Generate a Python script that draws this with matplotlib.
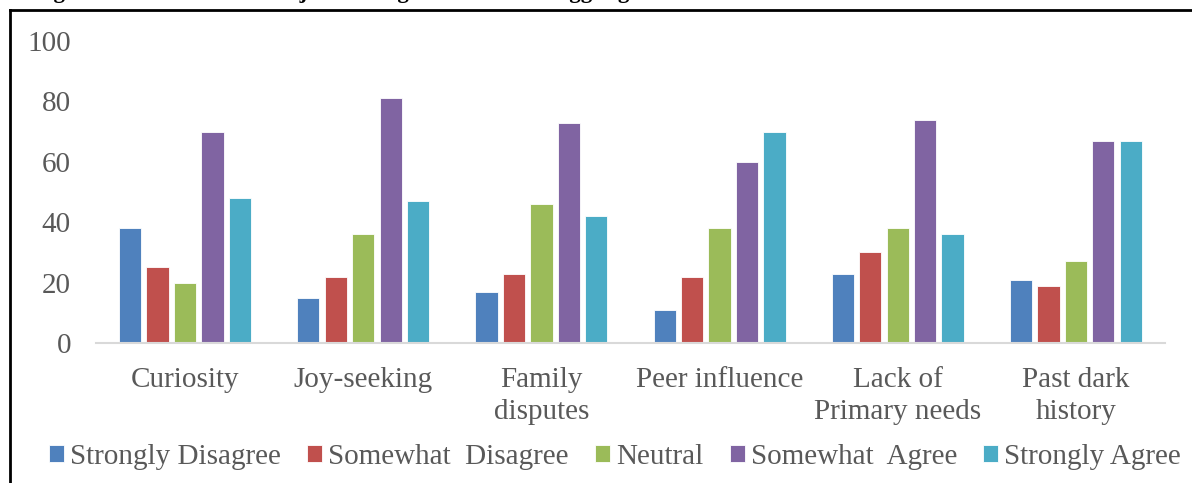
import numpy as np
import matplotlib.pyplot as plt
from matplotlib.lines import Line2D

# Survey responses per reason
reasons = ['Curiosity', 'Joy-seeking', 'Family\ndisputes', 'Peer influence',
           'Lack of\nPrimary needs', 'Past dark\nhistory']
responses = ['Strongly Disagree', 'Somewhat  Disagree', 'Neutral',
             'Somewhat  Agree', 'Strongly Agree']

strongly_disagree = [38, 15, 17, 11, 23, 21]
somewhat_disagree = [25, 22, 23, 22, 30, 19]
neutral = [20, 36, 46, 38, 38, 27]
somewhat_agree = [70, 81, 73, 60, 74, 67]
strongly_agree = [48, 47, 42, 70, 36, 67]

series = [strongly_disagree, somewhat_disagree, neutral, somewhat_agree, strongly_agree]
colors = ['#4F81BD', '#C0504D', '#9BBB59', '#8064A2', '#4BACC6']

plt.rcParams['font.family'] = ['Liberation Serif', 'DejaVu Serif']
text_col = '#595959'

fig = plt.figure(figsize=(11.92, 4.83), dpi=100)
ax = fig.add_axes([0.0805, 0.2899, 0.8968, 0.6252])

x = np.arange(len(reasons))
step = 0.154
width = 0.125
for k, (vals, c, name) in enumerate(zip(series, colors, responses)):
    ax.bar(x + (k - 2) * step, vals, width, color=c, edgecolor='white',
           linewidth=0.6, label=name, zorder=2)

ax.set_xlim(-0.5, len(reasons) - 0.5)
ax.set_ylim(0, 100)
ax.set_yticks(range(0, 101, 20))
ax.set_xticks(x)
ax.set_xticklabels(reasons, fontsize=21, color=text_col, linespacing=1.3)
ax.tick_params(axis='y', labelsize=21, labelcolor=text_col, length=0, pad=18)
ax.tick_params(axis='x', length=0, pad=17)
for s in ['top', 'right', 'left']:
    ax.spines[s].set_visible(False)
ax.spines['bottom'].set_color('#D9D9D9')
ax.spines['bottom'].set_linewidth(1.5)

fig.legend(loc='center', bbox_to_anchor=(0.516, 0.054), ncol=5, frameon=False,
           fontsize=21, labelcolor=text_col, handlelength=0.52, handleheight=0.52,
           handletextpad=0.2, columnspacing=0.9)

# border around the figure panel
fig.add_artist(Line2D([0.0082, 0.0082], [0, 0.9795], color='black', lw=2,
                      transform=fig.transFigure))
fig.add_artist(Line2D([0.0082, 1], [0.9795, 0.9795], color='black', lw=2,
                      transform=fig.transFigure))

# caption above the panel, running off the top edge
fig.text(0.028, 1.005, 'Figure 1: Reasons for Marijuana drugs abuse and smuggling',
         fontsize=16.6, fontweight='bold', va='baseline', ha='left')

fig.savefig('out.png', dpi=100)
